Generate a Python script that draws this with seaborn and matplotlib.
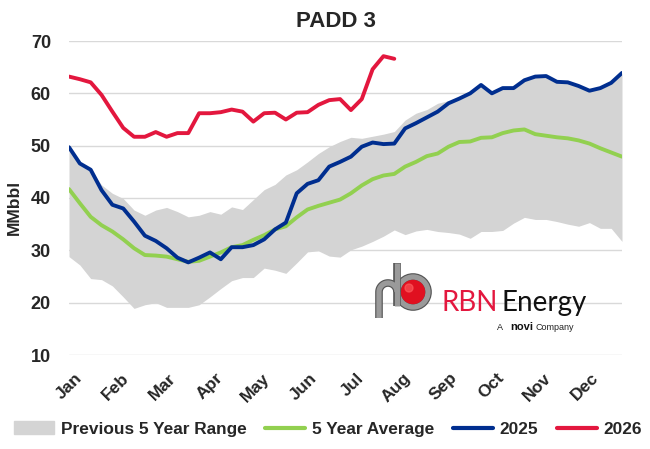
import numpy as np
import pandas as pd
import matplotlib
matplotlib.use("Agg")
import matplotlib.pyplot as plt
import matplotlib.patches as mpatches
from matplotlib.lines import Line2D
import seaborn as sns

# weekly storage, MMbbl
months = ["Jan", "Feb", "Mar", "Apr", "May", "Jun", "Jul", "Aug", "Sep", "Oct", "Nov", "Dec"]

range_low = [28.8, 27.2, 24.6, 24.4, 23.2, 21.1, 18.9, 19.6, 20.0, 19.1, 19.1, 19.1, 19.6,
             21.1, 22.7, 24.2, 24.8, 24.8, 26.6, 26.2, 25.6, 27.6, 29.7, 29.9, 28.9, 28.7,
             30.1, 30.8, 31.7, 32.7, 33.9, 33.0, 33.7, 34.0, 33.6, 33.4, 33.1, 32.3, 33.6,
             33.6, 33.8, 35.2, 36.3, 35.9, 35.9, 35.5, 35.0, 34.6, 35.3, 34.2, 34.2, 31.7]
range_high = [49.8, 46.9, 45.4, 42.5, 40.9, 39.9, 37.7, 36.7, 37.7, 38.2, 37.4, 36.4, 36.7,
              37.4, 36.9, 38.3, 37.8, 39.7, 41.6, 42.6, 44.4, 45.4, 46.9, 48.5, 49.8, 50.8,
              51.6, 51.4, 51.8, 52.2, 52.7, 54.9, 56.2, 56.9, 58.1, 58.6, 59.0, 60.0, 61.6,
              60.0, 61.0, 61.0, 62.5, 63.2, 63.3, 62.2, 62.1, 61.4, 60.5, 61.0, 62.0, 63.9]
avg_5yr = [41.7, 39.0, 36.4, 34.8, 33.6, 32.1, 30.4, 29.1, 29.0, 28.8, 28.3, 27.8, 28.0,
           28.8, 29.6, 30.6, 31.0, 32.0, 32.9, 34.0, 34.6, 36.3, 37.8, 38.5, 39.1, 39.7,
           40.9, 42.4, 43.6, 44.3, 44.6, 46.0, 46.9, 48.0, 48.5, 49.8, 50.7, 50.8, 51.5,
           51.6, 52.4, 52.9, 53.1, 52.2, 51.9, 51.6, 51.4, 51.0, 50.4, 49.5, 48.7, 47.9]
y2025 = [49.7, 46.6, 45.4, 41.5, 38.7, 38.0, 35.5, 32.8, 31.8, 30.4, 28.6, 27.7, 28.6,
         29.6, 28.3, 30.6, 30.6, 31.0, 32.1, 34.0, 35.3, 40.9, 42.7, 43.4, 46.0, 46.9,
         47.9, 49.8, 50.6, 50.3, 50.4, 53.3, 54.3, 55.4, 56.5, 58.1, 59.0, 60.0, 61.6,
         60.0, 61.0, 61.0, 62.5, 63.2, 63.3, 62.2, 62.1, 61.4, 60.5, 61.0, 62.0, 63.9]
y2026 = [63.2, 62.7, 62.1, 59.7, 56.5, 53.4, 51.7, 51.7, 52.6, 51.7, 52.4, 52.4, 56.2,
         56.2, 56.4, 56.9, 56.5, 54.6, 56.2, 56.3, 55.0, 56.3, 56.4, 57.8, 58.7, 58.9,
         56.8, 58.9, 64.6, 67.1, 66.6]

weeks = np.arange(len(y2025))
df = pd.DataFrame({"week": weeks, "low": range_low, "high": range_high,
                   "avg": avg_5yr, "y2025": y2025})
df26 = pd.DataFrame({"week": np.arange(len(y2026)), "y2026": y2026})

C_BAND = "#d4d4d4"
C_AVG = "#92d050"
C_25 = "#002e8f"
C_26 = "#e3173e"

sns.set_theme(style="white")
plt.rcParams["font.family"] = ["Liberation Sans", "DejaVu Sans"]

fig = plt.figure(figsize=(6.5, 4.49), dpi=100)
ax = fig.add_axes([69 / 650, 1 - 355 / 449, (622 - 69) / 650, (355 - 41) / 449])

ax.fill_between(df["week"], df["low"], df["high"], color=C_BAND, lw=0, zorder=1)
sns.lineplot(data=df, x="week", y="avg", ax=ax, color=C_AVG, lw=2.8, zorder=3)
sns.lineplot(data=df, x="week", y="y2025", ax=ax, color=C_25, lw=2.8, zorder=4)
sns.lineplot(data=df26, x="week", y="y2026", ax=ax, color=C_26, lw=2.8, zorder=5)

ax.set_xlim(0, 51)
ax.set_ylim(10, 70)
ax.set_yticks(range(10, 71, 10))
ax.yaxis.grid(True, color="#d9d9d9", lw=1)
ax.set_axisbelow(True)
for s in ax.spines.values():
    s.set_visible(False)
ax.tick_params(axis="y", length=0, pad=13, labelsize=13)
for t in ax.get_yticklabels():
    t.set_fontweight("bold")

ax.set_xticks([m * 52 / 12 + 0.45 for m in range(12)])
ax.set_xticklabels(months, rotation=45, ha="right", va="top", rotation_mode="anchor",
                   fontsize=12.5, fontweight="bold")
ax.tick_params(axis="x", length=0, pad=11)
ax.set_xlabel("")
ax.set_ylabel("MMbbl", fontsize=12.5, fontweight="bold")
ax.yaxis.set_label_coords(-0.085, 0.47)
fig.text(336 / 650, 1 - 27 / 449, "PADD 3", fontsize=16, fontweight="bold",
         ha="center", va="baseline")

handles = [mpatches.Patch(color=C_BAND, label="Previous 5 Year Range"),
           Line2D([], [], color=C_AVG, lw=3, label="5 Year Average"),
           Line2D([], [], color=C_25, lw=3, label="2025"),
           Line2D([], [], color=C_26, lw=3, label="2026")]
fig.legend(handles=handles, loc="center", ncol=4, frameon=False,
           bbox_to_anchor=(328 / 650, 1 - 429 / 449), handlelength=2.3, handletextpad=0.4,
           columnspacing=1.1, borderpad=0, prop={"weight": "bold", "size": 12.4})

# logo overlay in pixel coordinates
lg = fig.add_axes([0, 0, 1, 1], zorder=10)
lg.set_xlim(0, 650)
lg.set_ylim(449, 0)
lg.axis("off")
t = np.linspace(np.pi, 2 * np.pi, 40)
arm_x = np.concatenate([[379, 379], 388 + 9 * np.cos(t), [397]])
arm_y = np.concatenate([[318, 292], 292 + 9 * np.sin(t), [292]])
for lw, c in [(5.5, "#555555"), (3.8, "#9a9a9a")]:
    lg.plot(arm_x, arm_y, color=c, lw=lw, solid_capstyle="butt")
    lg.plot([397, 397], [263, 306], color=c, lw=lw, solid_capstyle="butt")
    lg.add_patch(mpatches.Circle((413, 292), 15, fill=False, ec=c, lw=lw))
lg.add_patch(mpatches.Circle((413, 292), 11.5, color="#e01020"))
lg.add_patch(mpatches.Circle((409, 288), 4, color="#ff6060", alpha=0.6))
lg.text(442, 311, "RBN", color="#e3173e", fontsize=20, family="Lato",
        va="baseline")
lg.text(502, 311, "Energy", color="#111111", fontsize=20, family="Lato",
        va="baseline")
lg.text(497, 330, "A", fontsize=6.5, color="#222222", va="baseline")
lg.text(510, 330, "novi", fontsize=8, fontweight="bold", color="#111111", va="baseline")
lg.text(535, 330, "Company", fontsize=6.5, color="#222222", va="baseline")

fig.savefig("out.png", dpi=100)
